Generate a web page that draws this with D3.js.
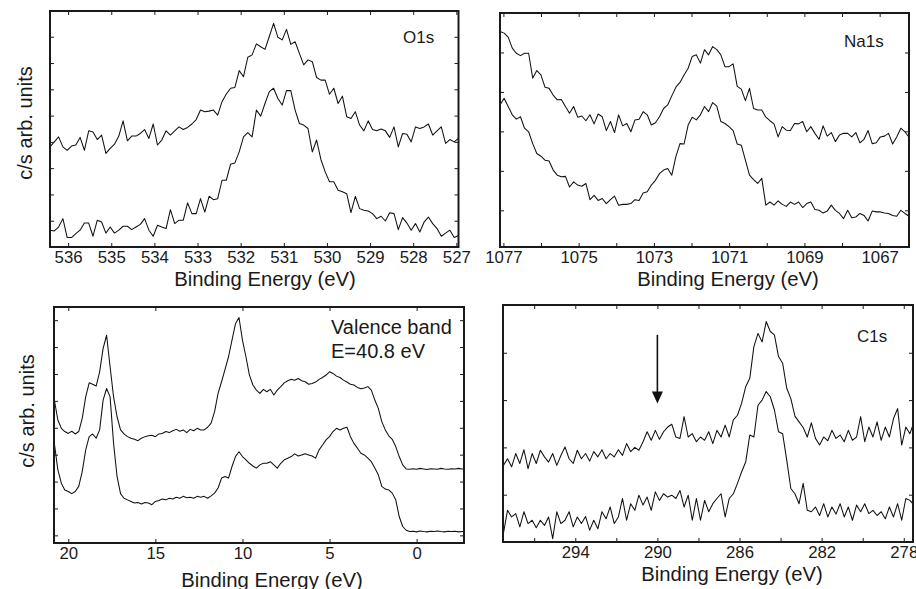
<!DOCTYPE html>
<html>
<head>
<meta charset="utf-8">
<script src="https://cdn.jsdelivr.net/npm/d3@7"></script>
<style>
  body { margin: 0; background: #fff; }
  svg { display: block; font-family: "Liberation Sans", Arial, Helvetica, sans-serif; }
</style>
</head>
<body>
<div id="chart"></div>
<script>
// ---- O1s (c/s arb. units, one tick = 1) ----
const o1sEnergy = [536.42, 526.95];
const o1sUpper = [
  3.81,4.00,4.19,3.81,3.68,3.84,3.88,4.17,3.68,4.42,
  4.38,4.09,4.26,3.56,3.75,3.91,4.22,4.80,4.04,4.22,
  4.22,4.32,4.47,4.13,4.68,3.88,4.07,4.42,4.26,4.42,
  4.57,4.47,4.55,4.68,4.85,5.21,5.15,5.17,5.21,5.02,
  5.53,5.82,6.04,6.07,6.71,6.48,7.22,7.31,7.73,7.62,
  7.52,8.01,8.51,7.98,7.88,8.28,7.71,7.81,7.37,6.93,
  7.12,7.05,6.45,6.35,6.35,5.81,6.04,5.46,5.74,4.96,
  4.89,5.15,4.64,4.42,4.80,4.47,4.42,4.49,4.42,4.17,
  4.57,3.81,4.32,4.29,4.00,4.57,4.51,4.57,4.68,4.26,
  4.42,4.57,3.94,4.09,4.00,4.13
];
const o1sLower = [
  0.64,0.61,0.76,1.08,0.36,0.36,0.51,0.64,0.91,0.91,
  0.41,1.02,0.95,0.53,0.76,0.53,0.64,0.79,0.79,0.66,
  0.76,0.86,1.08,0.64,0.41,0.83,0.76,0.70,1.42,0.89,
  1.02,1.02,1.68,1.27,1.27,1.84,1.33,1.93,1.80,1.84,
  2.54,2.54,3.15,3.20,3.62,4.19,4.35,4.19,5.21,4.98,
  5.46,5.91,6.04,5.65,5.40,5.95,5.95,5.21,4.70,4.64,
  4.51,3.62,4.07,3.33,2.86,2.48,2.48,2.16,2.10,2.03,
  1.31,1.93,1.46,1.40,1.37,1.27,1.08,1.17,0.99,1.30,
  1.27,0.66,1.12,0.91,0.64,0.89,0.57,0.95,1.14,0.89,
  0.70,0.41,0.53,0.64,0.36,0.44
];
const o1sTicks = [536, 535, 534, 533, 532, 531, 530, 529, 528, 527];
const o1sLabels = [536, 535, 534, 533, 532, 531, 530, 529, 528, 527];
const o1sYTicks = [1, 2, 3, 4, 5, 6, 7, 8];

// ---- Na1s ----
const na1sEnergy = [1077.09, 1066.22];
const na1sUpper = [
  5.53,5.49,5.39,5.11,4.98,4.92,4.98,4.98,4.35,4.54,
  4.43,4.12,4.09,3.92,3.80,3.81,3.63,3.46,3.63,3.36,
  3.39,3.27,3.42,3.19,3.44,3.37,3.02,3.25,2.97,3.42,
  3.14,3.20,2.99,3.29,3.31,3.50,3.42,3.16,3.22,3.37,
  3.58,3.67,3.90,4.12,4.24,4.43,4.60,4.90,4.94,4.73,
  5.07,4.94,5.15,5.07,4.94,4.64,4.64,4.71,4.14,4.07,
  3.78,4.09,3.58,3.54,3.54,3.36,3.27,3.19,2.86,3.12,
  3.03,3.02,3.20,3.19,3.25,2.99,3.12,2.95,2.80,3.14,
  2.88,2.97,2.74,2.91,2.95,2.95,2.86,2.97,2.71,2.80,
  3.02,2.69,2.71,2.86,2.88,2.95,2.68,2.86,3.08,2.99,
  2.85
];
const na1sLower = [
  3.67,3.84,3.63,3.42,3.31,3.37,3.08,2.99,2.69,2.44,
  2.37,2.27,2.25,2.02,1.89,1.85,1.86,1.59,1.72,1.64,
  1.61,1.68,1.27,1.38,1.25,1.30,1.17,1.27,1.36,1.13,
  1.15,1.15,1.17,1.27,1.25,1.44,1.47,1.64,1.76,1.93,
  2.02,2.06,1.89,2.36,2.69,2.68,3.16,3.36,3.29,3.42,
  3.63,3.50,3.73,3.64,3.25,3.20,3.12,3.02,2.68,2.65,
  2.27,1.89,1.78,1.68,1.81,1.13,1.21,1.13,1.24,1.15,
  1.10,1.21,1.15,1.21,1.07,1.17,1.21,1.02,1.00,0.93,
  0.98,1.13,1.00,0.92,0.79,1.00,0.81,0.83,0.92,0.87,
  0.73,0.98,0.96,0.96,0.93,0.92,0.87,0.85,1.00,0.92,
  0.85
];
const na1sTicks = [1077, 1076, 1075, 1074, 1073, 1072, 1071, 1070, 1069, 1068, 1067];
const na1sLabels = [1077, 1075, 1073, 1071, 1069, 1067];
const na1sYTicks = [1, 2, 3, 4, 5];

// ---- Valence band, E = 40.8 eV ----
const vbEnergy = [20.8, -2.8];
const vbUpper = [
  50.3,42.9,39.8,38.6,37.9,38.7,37.7,38.6,43.5,51.5,
  56.7,56.2,55.5,60.8,69.5,74.4,62.7,51.5,44.1,39.2,
  37.7,36.7,36.1,35.7,35.2,36.1,36.7,37.0,37.2,36.7,
  37.7,37.9,38.6,38.2,38.9,39.4,38.7,39.2,38.2,39.4,
  38.9,39.8,39.2,39.2,40.2,41.7,46.0,52.8,57.1,61.7,
  66.4,72.6,78.7,81.0,72.6,66.4,59.6,55.9,54.0,52.8,
  54.3,53.4,54.3,52.2,54.0,55.3,56.7,57.5,58.0,57.7,
  58.3,57.5,57.1,56.2,56.5,57.0,58.0,58.7,59.6,60.8,
  60.2,59.2,58.7,57.7,57.0,56.2,55.9,55.0,54.5,54.8,
  55.3,54.0,50.3,47.2,42.3,39.2,37.0,35.7,33.0,29.3,
  26.2,24.7,24.6,24.8,24.6,24.9,24.7,24.5,24.8,24.7,
  24.6,24.9,24.7,24.6,24.8,24.7,24.9,24.7,24.6
];
const vbLower = [
  34.2,24.4,19.4,16.9,16.3,15.5,16.3,18.2,23.7,31.8,
  36.7,37.7,36.1,39.2,50.3,54.6,51.5,34.2,21.9,15.5,
  13.8,13.2,12.6,12.0,12.2,11.7,12.2,12.0,11.4,12.6,
  13.0,13.5,13.2,13.8,13.5,14.2,13.8,14.5,14.0,14.2,
  13.8,14.5,14.2,14.5,13.8,14.7,15.7,17.6,21.3,21.9,
  21.3,25.6,29.3,31.1,29.3,28.1,26.8,25.8,25.0,26.2,
  26.8,26.8,27.4,26.2,25.0,26.8,28.1,28.7,29.3,30.3,
  29.5,29.9,30.3,29.9,29.5,28.7,31.8,33.6,35.5,36.7,
  38.6,39.8,39.2,39.8,40.2,36.7,34.2,32.4,30.5,29.9,
  28.7,27.4,25.0,22.5,18.2,17.2,16.9,15.7,13.2,7.0,
  3.3,1.9,1.4,1.5,1.3,1.6,1.4,1.3,1.5,1.4,
  1.6,1.4,1.3,1.5,1.4,1.5,1.3,1.4,1.5
];
const vbTicks = [20, 15, 10, 5, 0];
const vbLabels = [20, 15, 10, 5, 0];
const vbYTicks = [0, 10, 20, 30, 40, 50, 60, 70, 80];

// ---- C1s ----
const c1sEnergy = [297.5, 277.5];
const c1sUpper = [
  16.2,17.6,15.9,18.7,16.6,19.5,15.5,18.7,16.6,19.4,
  18.0,16.9,18.7,16.2,18.3,20.1,17.6,16.6,19.4,17.6,
  18.7,17.1,19.1,18.0,19.5,17.6,18.7,18.0,19.5,18.3,
  20.8,19.1,20.0,19.4,21.2,23.3,21.5,23.6,21.7,23.3,
  24.3,24.9,22.2,21.9,26.5,22.2,22.9,21.2,22.2,21.5,
  23.3,20.8,23.6,22.2,24.7,22.2,25.8,26.8,29.3,32.8,
  34.6,41.3,44.1,42.3,46.6,44.5,43.8,39.2,37.8,32.5,
  30.3,26.6,25.4,24.2,22.2,25.2,21.9,20.5,22.2,21.4,
  23.6,21.9,22.6,21.2,23.6,21.5,22.2,26.5,21.2,24.3,
  22.2,25.4,21.5,24.3,22.2,26.1,28.2,20.5,24.3,22.9,
  25.4
];
const c1sLower = [
  1.8,6.7,5.3,6.0,3.2,6.4,3.9,4.6,3.0,4.6,
  3.5,5.3,0.7,6.4,3.9,4.6,6.4,3.2,5.3,3.9,
  5.4,2.5,4.6,2.8,6.4,4.9,7.4,3.9,5.3,9.2,
  4.6,8.1,6.7,9.9,7.8,9.5,6.7,10.6,8.8,10.2,
  9.5,9.9,9.2,10.9,7.4,9.9,4.6,9.2,4.6,8.8,
  6.4,8.1,9.2,10.2,5.3,9.2,10.2,12.4,14.8,16.9,
  22.6,22.2,28.9,30.0,31.8,30.7,27.9,23.3,22.9,17.3,
  11.3,10.2,8.1,12.4,6.7,6.4,7.4,5.6,8.1,5.3,
  7.4,5.9,8.1,5.3,7.4,4.6,7.8,6.4,8.1,6.0,
  6.7,5.6,6.4,4.9,7.4,5.3,8.1,4.6,9.2,8.8,
  7.8
];
const c1sTicks = [296, 294, 292, 290, 288, 286, 284, 282, 280, 278];
const c1sLabels = [294, 290, 286, 282, 278];
const c1sYTicks = [10, 20, 30, 40];
// arrow marking the carbonate region
const c1sArrow = {energy: 290, from: 43.8, to: 29.3};

const width = 916, height = 589;
const ink = "#1a1a1a";

const svg = d3.select("#chart")
    .append("svg")
    .attr("width", width)
    .attr("height", height);

function energyGrid(range, n) {
    return d3.range(n).map(i => range[0] + (range[1] - range[0]) * i / (n - 1));
}

const panels = [
    {
        id: "o1s", box: {left: 50, right: 458.5, top: 11, bottom: 247},
        xDomain: [536.42, 526.95], yDomain: [0, 8.98],
        energy: o1sEnergy, series: [o1sUpper, o1sLower],
        xTicks: o1sTicks, xLabels: o1sLabels, yTicks: o1sYTicks,
        title: {x: 265, y: 286}, label: {text: "O1s", x: 403, y: 43},
        ylabel: {x: 32, y: 123}
    },
    {
        id: "na1s", box: {left: 500, right: 909, top: 13, bottom: 247},
        xDomain: [1077.09, 1066.22], yDomain: [0.07, 6],
        energy: na1sEnergy, series: [na1sUpper, na1sLower],
        xTicks: na1sTicks, xLabels: na1sLabels, yTicks: na1sYTicks,
        title: {x: 728, y: 286}, label: {text: "Na1s", x: 844, y: 47}
    },
    {
        id: "vb", box: {left: 54, right: 464, top: 307, bottom: 543},
        xDomain: [20.82, -2.72], yDomain: [-2.84, 84.9],
        energy: vbEnergy, series: [vbUpper, vbLower],
        xTicks: vbTicks, xLabels: vbLabels, yTicks: vbYTicks,
        title: {x: 272, y: 587}, ylabel: {x: 34, y: 411}
    },
    {
        id: "c1s", box: {left: 503, right: 913, top: 305, bottom: 542},
        xDomain: [297.52, 277.55], yDomain: [0, 50.1],
        energy: c1sEnergy, series: [c1sUpper, c1sLower],
        xTicks: c1sTicks, xLabels: c1sLabels, yTicks: c1sYTicks,
        title: {x: 732, y: 581}, label: {text: "C1s", x: 857, y: 342},
        arrow: c1sArrow
    }
];

panels.forEach(p => {
    const b = p.box;
    const x = d3.scaleLinear(p.xDomain, [b.left, b.right]);
    const y = d3.scaleLinear(p.yDomain, [b.bottom, b.top]);
    const g = svg.append("g").attr("class", p.id);

    g.append("clipPath")
        .attr("id", "clip-" + p.id)
        .append("rect")
        .attr("x", b.left).attr("y", b.top)
        .attr("width", b.right - b.left).attr("height", b.bottom - b.top);

    const line = d3.line()
        .x(d => x(d[0]))
        .y(d => y(d[1]));

    g.append("g")
        .attr("clip-path", `url(#clip-${p.id})`)
        .attr("fill", "none")
        .attr("stroke", "#111")
        .attr("stroke-width", 1.05)
        .attr("stroke-linejoin", "round")
        .selectAll("path")
        .data(p.series)
        .join("path")
        .attr("d", s => {
            const e = energyGrid(p.energy, s.length);
            return line(s.map((v, i) => [e[i], v]));
        });

    const fmt = d => p.xLabels.includes(d) ? d : "";

    // inward ticks on all four sides, labels only at the bottom
    g.append("g")
        .attr("transform", `translate(0,${b.bottom})`)
        .call(d3.axisBottom(x).tickValues(p.xTicks).tickFormat(fmt)
            .tickSizeInner(-4).tickSizeOuter(0).tickPadding(4.5))
        .call(a => a.select(".domain").remove())
        .call(a => a.selectAll("text")
            .attr("font-size", 16.8)
            .attr("font-family", null)
            .attr("fill", ink));

    g.append("g")
        .attr("transform", `translate(0,${b.top})`)
        .call(d3.axisTop(x).tickValues(p.xTicks).tickFormat("").tickSizeInner(-4).tickSizeOuter(0))
        .call(a => a.select(".domain").remove());

    g.append("g")
        .attr("transform", `translate(${b.left},0)`)
        .call(d3.axisLeft(y).tickValues(p.yTicks).tickFormat("").tickSizeInner(-4).tickSizeOuter(0))
        .call(a => a.select(".domain").remove());

    g.append("g")
        .attr("transform", `translate(${b.right},0)`)
        .call(d3.axisRight(y).tickValues(p.yTicks).tickFormat("").tickSizeInner(-4).tickSizeOuter(0))
        .call(a => a.select(".domain").remove());

    g.selectAll(".tick line").attr("stroke", ink).attr("stroke-width", 1);

    g.append("rect")
        .attr("x", b.left).attr("y", b.top)
        .attr("width", b.right - b.left).attr("height", b.bottom - b.top)
        .attr("fill", "none")
        .attr("stroke", ink)
        .attr("stroke-width", 2);

    g.append("text")
        .attr("x", p.title.x).attr("y", p.title.y)
        .attr("text-anchor", "middle")
        .attr("font-size", 20.3)
        .attr("fill", ink)
        .text("Binding Energy (eV)");

    if (p.label) {
        g.append("text")
            .attr("x", p.label.x).attr("y", p.label.y)
            .attr("font-size", 17)
            .attr("fill", ink)
            .text(p.label.text);
    }

    if (p.ylabel) {
        g.append("text")
            .attr("transform", `translate(${p.ylabel.x},${p.ylabel.y}) rotate(-90)`)
            .attr("text-anchor", "middle")
            .attr("font-size", 20)
            .attr("fill", ink)
            .text("c/s arb. units");
    }

    if (p.arrow) {
        const ax = x(p.arrow.energy), y0 = y(p.arrow.from), y1 = y(p.arrow.to);
        g.append("line")
            .attr("x1", ax).attr("x2", ax)
            .attr("y1", y0).attr("y2", y1 - 8)
            .attr("stroke", "#111")
            .attr("stroke-width", 1.6);
        g.append("path")
            .attr("d", `M${ax - 5.5},${y1 - 12}L${ax + 5.5},${y1 - 12}L${ax},${y1}Z`)
            .attr("fill", "#111");
    }
});

// valence band annotation
const vbNote = svg.append("text")
    .attr("font-size", 20)
    .attr("fill", ink);
vbNote.append("tspan").attr("x", 331).attr("y", 334).text("Valence band");
vbNote.append("tspan").attr("x", 331).attr("y", 358).text("E=40.8 eV");
</script>
</body>
</html>
